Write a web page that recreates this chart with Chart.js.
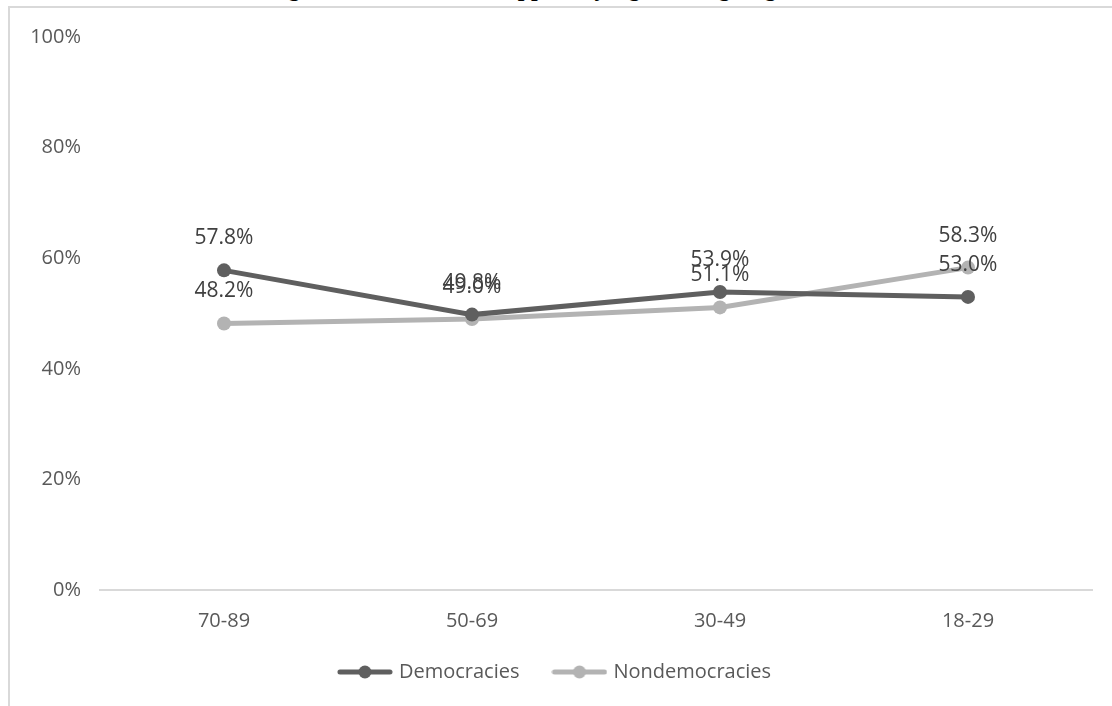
<!DOCTYPE html>
<html>
<head>
<meta charset="utf-8">
<script src="https://cdn.jsdelivr.net/npm/chart.js@4"></script>
<style>
  html, body { margin: 0; padding: 0; background: #fff; overflow: hidden; }
  #wrap { position: relative; width: 1112px; height: 706px; overflow: hidden; }
  #frame { position: absolute; left: 8px; top: 6px; width: 1300px; height: 900px; border: 2px solid #d9d9d9; }
  #title { position: absolute; left: 0; top: -24px; width: 1090px; text-align: center;
           font: bold 24px "Liberation Serif", serif; line-height: 24px; color: #000; white-space: nowrap; }
  #myChart { position: absolute; left: 0; top: 0; }
</style>
</head>
<body>
<div id="wrap">
  <div id="frame"></div>
  <div id="title">Figure 3: Democratic Support by Age Among Regimes</div>
  <canvas id="myChart" width="1112" height="706"></canvas>
</div>
<script>
const ageGroups = ['70-89', '50-69', '30-49', '18-29'];
const democracies = [57.8, 49.8, 53.9, 53.0];
const nondemocracies = [48.2, 49.0, 51.1, 58.3];
const yTicks = [0, 20, 40, 60, 80, 100];

const darkGrey = '#5f5f5f';
const lightGrey = '#b3b3b3';
const fontFamily = '"Open Sans", sans-serif';

// little line-with-dot swatch for the legend
function legendSwatch(color){
    const c = document.createElement('canvas');
    c.width = 56; c.height = 14;
    const g = c.getContext('2d');
    g.strokeStyle = color;
    g.lineWidth = 5;
    g.lineCap = 'round';
    g.beginPath(); g.moveTo(3, 7); g.lineTo(53, 7); g.stroke();
    g.fillStyle = color;
    g.beginPath(); g.arc(28, 7, 6.5, 0, Math.PI * 2); g.fill();
    return c;
}

// value labels above each point
const valueLabels = {
    id: 'valueLabels',
    afterDatasetsDraw(chart){
        const ctx = chart.ctx;
        ctx.save();
        ctx.font = '21px ' + fontFamily;
        ctx.fillStyle = '#404040';
        ctx.textAlign = 'center';
        ctx.textBaseline = 'middle';
        chart.data.datasets.forEach((ds, i) => {
            chart.getDatasetMeta(i).data.forEach((pt, j) => {
                ctx.fillText(ds.data[j].toFixed(1) + '%', pt.x, pt.y - 32);
            });
        });
        ctx.restore();
    }
};

const ctx = document.getElementById('myChart');
const myChart = new Chart(ctx, {
    type: 'line',
    data: {
        labels: ageGroups,
        datasets: [{
            label: 'Democracies',
            data: democracies,
            borderColor: darkGrey,
            backgroundColor: darkGrey,
            pointBackgroundColor: darkGrey,
            borderWidth: 5,
            pointRadius: 7,
            pointBorderWidth: 0
        },{
            label: 'Nondemocracies',
            data: nondemocracies,
            borderColor: lightGrey,
            backgroundColor: lightGrey,
            pointBackgroundColor: lightGrey,
            borderWidth: 5,
            pointRadius: 7,
            pointBorderWidth: 0
        }]
    },
    options: {
        responsive: false,
        animation: false,
        layout: { padding: { left: 20, right: 20, top: 37, bottom: 14 } },
        elements: { line: { tension: 0 }, point: { pointStyle: 'circle' } },
        scales: {
            y: {
                min: 0,
                max: 100,
                afterBuildTicks: (s) => { s.ticks = yTicks.map(v => ({ value: v })); },
                afterFit: (s) => { s.width = 80; },
                grid: { display: false, drawTicks: false },
                border: { display: false },
                ticks: {
                    padding: 19,
                    color: '#595959',
                    font: { family: fontFamily, size: 20 },
                    callback: function(value){ return value + '%'; }
                }
            },
            x: {
                offset: true,
                afterFit: (s) => { s.height = 62; },
                grid: { display: false, drawTicks: false },
                border: { display: true, color: '#d9d9d9', width: 2 },
                ticks: {
                    padding: 19,
                    color: '#595959',
                    font: { family: fontFamily, size: 20 }
                }
            }
        },
        plugins: {
            tooltip: { enabled: false },
            legend: {
                position: 'bottom',
                labels: {
                    color: '#595959',
                    font: { family: fontFamily, size: 20 },
                    usePointStyle: true,
                    pointStyleWidth: 48,
                    padding: 10,
                    generateLabels: (chart) => chart.data.datasets.map((ds, i) => ({
                        text: i === 0 ? ds.label + '     ' : ds.label,
                        pointStyle: legendSwatch(ds.borderColor),
                        fillStyle: ds.borderColor,
                        strokeStyle: ds.borderColor,
                        lineWidth: 0,
                        hidden: false,
                        datasetIndex: i,
                        fontColor: '#595959'
                    }))
                }
            }
        }
    },
    plugins: [valueLabels]
});
</script>
</body>
</html>
